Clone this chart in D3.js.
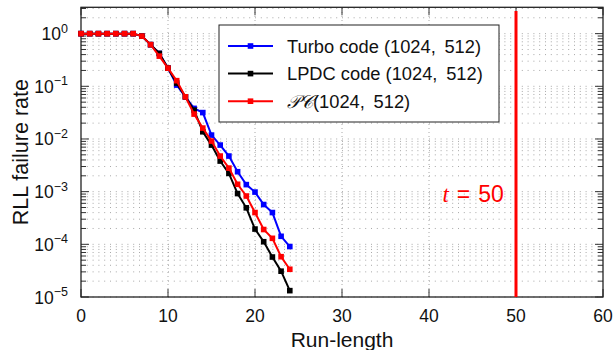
<!DOCTYPE html>
<html>
<head>
<meta charset="utf-8">
<script src="https://cdn.jsdelivr.net/npm/d3@7"></script>
<style>
  body { margin: 0; background: #fff; }
  text { font-family: "Liberation Sans", Arial, sans-serif; }
</style>
</head>
<body>
<div id="chart"></div>
<script>
// run-length failure rate, three codes

const width = 615;
const height = 350;
const margin = {left: 81, right: 12, top: 7.3, bottom: 53};

// data
const runLength = d3.range(0, 25);
const turbo = [1, 1, 1, 1, 1, 1, 1, 0.897, 0.618, 0.421, 0.221, 0.1055, 0.0632, 0.0381, 0.0317,
  0.01186, 0.00766, 0.00474, 0.00239, 0.00136, 0.000982, 0.000569, 0.000401, 0.000142, 0.0000908];
const ldpc = [1, 1, 1, 1, 1, 1, 1, 0.897, 0.618, 0.421, 0.221, 0.115, 0.0632, 0.0353, 0.0137,
  0.00766, 0.00381, 0.00222, 0.00092, 0.000493, 0.000195, 0.000112, 0.0000574, 0.0000309, 0.0000132];
const pc = [1, 1, 1, 1, 1, 1, 1, 0.897, 0.618, 0.374, 0.221, 0.128, 0.0632, 0.0297, 0.0161,
  0.00912, 0.00474, 0.0028, 0.00138, 0.000826, 0.000401, 0.000191, 0.00013, 0.0000582, 0.0000336];
const seriesNames = ["Turbo code", "LPDC code", "PC"];
const seriesColors = ["#0000ff", "#000000", "#ff0000"];
const xTicks = [0, 10, 20, 30, 40, 50, 60];
const yTickExp = [0, -1, -2, -3, -4, -5];
const xDomain = [0, 60];
const yDomain = [1e-5, Math.pow(10, 0.5)];
const limitX = 50;
const limitTop = 2.7;

const svg = d3.select("#chart")
  .append("svg")
  .attr("width", width)
  .attr("height", height);

const x = d3.scaleLinear().domain(xDomain).range([margin.left, width - margin.right]);
const y = d3.scaleLog().domain(yDomain).range([height - margin.bottom, margin.top]);

const x0 = margin.left, x1 = width - margin.right;
const y0 = height - margin.bottom, y1 = margin.top;

// grid
const minorY = y.ticks().filter(v => v >= yDomain[0] && v <= yDomain[1]);
svg.append("g").selectAll("line")
  .data(minorY)
  .join("line")
  .attr("x1", x0).attr("x2", x1)
  .attr("y1", d => y(d)).attr("y2", d => y(d))
  .attr("stroke", "#a8a8a8")
  .attr("stroke-width", 1)
  .attr("stroke-dasharray", "1,4.8");

svg.append("g").selectAll("line")
  .data(xTicks.slice(1, -1))
  .join("line")
  .attr("x1", d => x(d)).attr("x2", d => x(d))
  .attr("y1", y0).attr("y2", y1)
  .attr("stroke", "#a8a8a8")
  .attr("stroke-width", 1)
  .attr("stroke-dasharray", "1,3");

// ticks on all four sides, pointing inward
const majorY = yTickExp.map(e => Math.pow(10, e));
const tickG = svg.append("g").attr("stroke", "#333").attr("stroke-width", 1);
xTicks.forEach(t => {
  tickG.append("line").attr("x1", x(t)).attr("x2", x(t)).attr("y1", y0).attr("y2", y0 - 8);
  tickG.append("line").attr("x1", x(t)).attr("x2", x(t)).attr("y1", y1).attr("y2", y1 + 8);
});
minorY.forEach(v => {
  const len = majorY.includes(v) ? 8 : 5;
  tickG.append("line").attr("x1", x0).attr("x2", x0 + len).attr("y1", y(v)).attr("y2", y(v));
  tickG.append("line").attr("x1", x1).attr("x2", x1 - len).attr("y1", y(v)).attr("y2", y(v));
});

// frame
svg.append("rect")
  .attr("x", x0).attr("y", y1)
  .attr("width", x1 - x0).attr("height", y0 - y1)
  .attr("fill", "none")
  .attr("stroke", "#222")
  .attr("stroke-width", 1.3);

// tick labels
svg.append("g").selectAll("text")
  .data(xTicks)
  .join("text")
  .attr("x", d => x(d))
  .attr("y", y0 + 24.5)
  .attr("text-anchor", "middle")
  .attr("font-size", 17.5)
  .attr("fill", "#111")
  .text(d => d);

const yLab = svg.append("g").selectAll("text")
  .data(yTickExp)
  .join("text")
  .attr("x", x0 - 13)
  .attr("y", d => y(Math.pow(10, d)) + 6.5)
  .attr("text-anchor", "end")
  .attr("font-size", 17.5)
  .attr("fill", "#111");
yLab.append("tspan").text("10");
yLab.append("tspan")
  .attr("dy", -7.5)
  .attr("font-size", 12.5)
  .text(d => d === 0 ? "0" : "\u2212" + (-d));

// axis titles
svg.append("text")
  .attr("x", (x0 + x1) / 2)
  .attr("y", height - 3)
  .attr("text-anchor", "middle")
  .attr("font-size", 21)
  .attr("fill", "#111")
  .text("Run-length");

svg.append("text")
  .attr("transform", `translate(28, ${(y0 + y1) / 2}) rotate(-90)`)
  .attr("text-anchor", "middle")
  .attr("font-size", 21.5)
  .attr("fill", "#111")
  .text("RLL failure rate");

// limit line t = 50
svg.append("line")
  .attr("x1", x(limitX)).attr("x2", x(limitX))
  .attr("y1", y(limitTop)).attr("y2", y(yDomain[0]))
  .attr("stroke", "#ff0000")
  .attr("stroke-width", 3);

const tLab = svg.append("text")
  .attr("x", x(48.6))
  .attr("y", y(6.4e-4))
  .attr("text-anchor", "end")
  .attr("font-size", 23)
  .attr("fill", "#ff0000");
tLab.append("tspan")
  .attr("font-family", "'Liberation Serif', serif")
  .attr("font-style", "italic")
  .text("t");
tLab.append("tspan").attr("dx", 8).text("=");
tLab.append("tspan").attr("dx", 8).text("50");

// series
const allSeries = [turbo, ldpc, pc];
const line = d3.line()
  .x((d, i) => x(runLength[i]))
  .y(d => y(d));

allSeries.forEach((vals, k) => {
  const g = svg.append("g");
  g.append("path")
    .datum(vals)
    .attr("d", line)
    .attr("fill", "none")
    .attr("stroke", seriesColors[k])
    .attr("stroke-width", 2);
  g.selectAll("rect")
    .data(vals)
    .join("rect")
    .attr("x", (d, i) => x(runLength[i]) - 2.8)
    .attr("y", d => y(d) - 2.8)
    .attr("width", 5.6)
    .attr("height", 5.6)
    .attr("fill", seriesColors[k]);
});

// legend
const lg = svg.append("g");
lg.append("rect")
  .attr("x", 219).attr("y", 25)
  .attr("width", 280).attr("height", 97)
  .attr("fill", "#fff")
  .attr("stroke", "#222")
  .attr("stroke-width", 1);

seriesNames.forEach((name, k) => {
  const ly = 46 + k * 27.6;
  lg.append("line")
    .attr("x1", 228).attr("x2", 273)
    .attr("y1", ly).attr("y2", ly)
    .attr("stroke", seriesColors[k])
    .attr("stroke-width", 2);
  lg.append("rect")
    .attr("x", 250.5 - 2.8).attr("y", ly - 2.8)
    .attr("width", 5.6).attr("height", 5.6)
    .attr("fill", seriesColors[k]);
  const t = lg.append("text")
    .attr("x", 287)
    .attr("y", ly + 6.5)
    .attr("font-size", 18.3)
    .attr("fill", "#111");
  if (name === "PC") {
    t.append("tspan")
      .attr("font-family", "'Liberation Serif', serif")
      .attr("font-style", "italic")
      .text("\uD835\uDCAB\uD835\uDC9E");
    t.append("tspan").text("(1024,\u2009 512)");
  } else {
    t.append("tspan").text(name + " (1024,\u2009 512)");
  }
});
</script>
</body>
</html>
